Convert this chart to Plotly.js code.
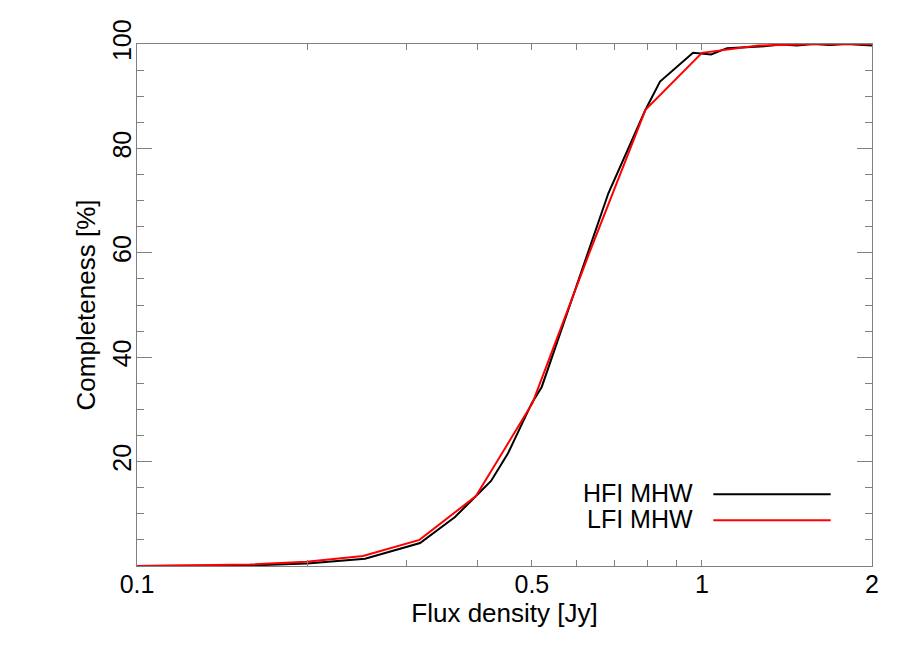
<!DOCTYPE html>
<html>
<head>
<meta charset="utf-8">
<script src="https://cdn.plot.ly/plotly-3.0.1.min.js"></script>
<style>
  html, body { margin: 0; padding: 0; background: #ffffff; }
  #chart { width: 913px; height: 653px; }
</style>
</head>
<body>
<div id="chart"></div>
<script>
// HFI MHW completeness curve (black)
const hfiFlux = [0.1, 0.1585, 0.2, 0.2257, 0.2533, 0.317, 0.3655, 0.3982, 0.4234, 0.4537, 0.4998, 0.5205, 0.6829, 0.7944, 0.8429, 0.9643, 1.038, 1.108, 1.268, 1.375, 1.474, 1.573, 1.686, 1.807, 1.882, 2.0];
const hfiCompleteness = [0, 0.1, 0.5, 0.9, 1.4, 4.4, 9.4, 13.4, 16.3, 21.6, 31.2, 34.3, 71.4, 87.4, 92.8, 98.3, 98.0, 99.2, 99.5, 99.9, 99.7, 100, 99.8, 100, 99.9, 99.7];

// LFI MHW completeness curve (red)
const lfiFlux = [0.1, 0.1259, 0.1585, 0.1995, 0.2512, 0.3162, 0.3981, 0.5012, 0.631, 0.7943, 1.0, 1.259, 1.585, 1.995];
const lfiCompleteness = [0, 0.1, 0.3, 0.8, 1.9, 5.0, 13.4, 31.2, 59.8, 87.4, 98.3, 99.7, 100, 100];

// Axis ticks
const xTickVals = [0.1, 0.2, 0.3, 0.4, 0.5, 0.6, 0.7, 0.8, 0.9, 1, 2];
const xTickText = ['0.1', '', '', '', '0.5', '', '', '', '', '1', '2'];
const yTickVals = [20, 40, 60, 80, 100];
const yTickText = ['20', '40', '60', '80', '100'];
const yMinorVals = [5, 10, 15, 25, 30, 35, 45, 50, 55, 65, 70, 75, 85, 90, 95];

const legendNames = ['HFI MHW', 'LFI MHW'];
const legendColors = ['#000000', '#ff0000'];

const FONT = '"Liberation Sans", Arial, Helvetica, sans-serif';
const AXIS_GREY = '#808080';

const traces = [
  { x: hfiFlux, y: hfiCompleteness, type: 'scatter', mode: 'lines', name: legendNames[0],
    line: { color: legendColors[0], width: 2 } },
  { x: lfiFlux, y: lfiCompleteness, type: 'scatter', mode: 'lines', name: legendNames[1],
    line: { color: legendColors[1], width: 2 } }
];

// Legend drawn as text (left) + line sample (right), paper coordinates
const legY = [0.1398, 0.090];
const legLineY = [0.1374, 0.0875];
const annotations = legendNames.map((n, i) => ({
  xref: 'paper', yref: 'paper', x: 0.7592, y: legY[i], xanchor: 'right', yanchor: 'middle',
  text: n, showarrow: false, font: { family: FONT, size: 25, color: '#000' }
}));
const shapes = legendNames.map((n, i) => ({
  type: 'line', xref: 'paper', yref: 'paper', x0: 0.7841, x1: 0.9438, y0: legLineY[i], y1: legLineY[i],
  line: { color: legendColors[i], width: 2 }
}));

const layout = {
  width: 913, height: 653,
  margin: { l: 137, r: 41, t: 44, b: 87, pad: 0 },
  paper_bgcolor: '#ffffff', plot_bgcolor: '#ffffff',
  showlegend: false,
  font: { family: FONT, color: '#000' },
  xaxis: {
    type: 'log', range: [Math.log10(0.1), Math.log10(2)],
    tickmode: 'array', tickvals: xTickVals, ticktext: xTickText,
    ticks: 'inside', ticklen: 6, tickwidth: 1, tickcolor: AXIS_GREY,
    ticklabelstandoff: -4,
    showline: true, linecolor: AXIS_GREY, linewidth: 1, mirror: 'allticks',
    showgrid: false, zeroline: false,
    tickfont: { family: FONT, size: 25, color: '#000' },
    title: { text: 'Flux density [Jy]', font: { family: FONT, size: 26, color: '#000' }, standoff: 2 }
  },
  yaxis: {
    range: [0, 100],
    tickmode: 'array', tickvals: yTickVals, ticktext: yTickText,
    ticks: 'inside', ticklen: 15, tickwidth: 1, tickcolor: AXIS_GREY,
    minor: { tickmode: 'array', tickvals: yMinorVals, ticks: 'inside', ticklen: 7, tickcolor: AXIS_GREY, showgrid: false },
    tickangle: -90,
    ticklabelstandoff: -5,
    showline: true, linecolor: AXIS_GREY, linewidth: 1, mirror: 'allticks',
    showgrid: false, zeroline: false,
    tickfont: { family: FONT, size: 25, color: '#000' },
    title: { text: 'Completeness [%]', font: { family: FONT, size: 26, color: '#000' }, standoff: 4 }
  },
  annotations: annotations,
  shapes: shapes
};

Plotly.newPlot('chart', traces, layout, { displayModeBar: false, staticPlot: true });
</script>
</body>
</html>
